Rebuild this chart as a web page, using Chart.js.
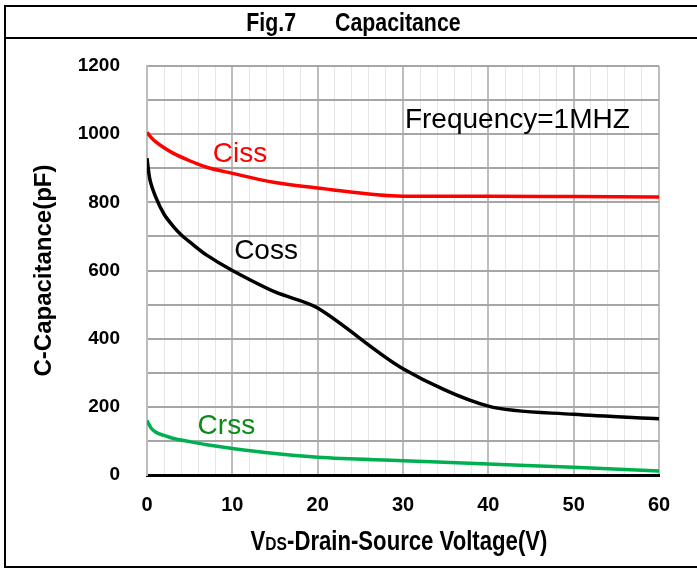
<!DOCTYPE html>
<html><head><meta charset="utf-8">
<script src="https://cdn.jsdelivr.net/npm/chart.js@4.4.0/dist/chart.umd.min.js"></script>
<style>html,body{margin:0;padding:0;background:#fff;overflow:hidden}</style>
</head><body>
<canvas id="c" width="697" height="569"></canvas>
<script>
// ---- data ----
const cissV = [0, 0.5, 1, 2, 3, 5, 7, 10, 15, 20, 30, 40, 50, 60];
const cissC = [1005, 990, 978, 960, 945, 922, 903, 885, 858, 842, 818, 818, 817, 816];
const cossV = [0, 0.35, 1, 2, 3, 4, 5, 7, 10, 15, 20, 30, 40, 50, 60];
const cossC = [929, 866, 817, 765, 732, 705, 684, 645, 600, 537, 490, 312, 202, 178, 165];
const crssV = [0, 0.5, 1, 2, 3, 5, 7, 10, 15, 20, 30, 40, 50, 60];
const crssC = [160, 137, 126, 116, 108, 98, 89, 78, 63, 52, 42, 32, 23, 12];
const xMin = 0, xMax = 60, xStep = 2, xLabelEvery = 10;
const yMin = 0, yMax = 1200, yStep = 100, yLabelEvery = 200;
const chartTitleLeft = 'Fig.7';
const chartTitleRight = 'Capacitance';
const xTitleMain = 'V', xTitleSub = 'DS', xTitleRest = '-Drain-Source Voltage(V)';
const yTitle = 'C-Capacitance(pF)';
const seriesNames = ['Ciss', 'Coss', 'Crss'];
const noteText = 'Frequency=1MHZ';

const SANS = '"Liberation Sans", Arial, sans-serif';
const CONDENSE = 0.82;

const toPts = (xs, ys) => xs.map((x, i) => ({x: x, y: ys[i]}));

// annotation anchors (data units) and styles
const notes = [
  {text: seriesNames[0], v: 10.9, c: 918, color: '#ff0000'},
  {text: seriesNames[1], v: 13.95, c: 634, color: '#000000'},
  {text: seriesNames[2], v: 9.3, c: 119, color: '#0b8a17'},
  {text: noteText, v: 43.4, c: 1019, color: '#000000'}
];

function condensedText(ctx, text, x, y, align) {
  ctx.save();
  ctx.translate(x, y);
  ctx.scale(CONDENSE, 1);
  ctx.textAlign = align;
  ctx.fillText(text, 0, 0);
  ctx.restore();
}

const decor = {
  id: 'decor',
  afterDatasetsDraw(chart) {
    const ctx = chart.ctx, xs = chart.scales.x, ys = chart.scales.y;
    ctx.save();
    ctx.font = '28px ' + SANS;
    ctx.textAlign = 'center';
    ctx.textBaseline = 'alphabetic';
    notes.forEach(n => {
      ctx.fillStyle = n.color;
      ctx.fillText(n.text, xs.getPixelForValue(n.v), ys.getPixelForValue(n.c));
    });
    ctx.restore();
  },
  afterDraw(chart) {
    const ctx = chart.ctx, xs = chart.scales.x, W = chart.width, H = chart.height;
    ctx.save();
    // frame
    ctx.strokeStyle = '#000';
    ctx.lineWidth = 2;
    ctx.beginPath();
    ctx.moveTo(5, 6); ctx.lineTo(W, 6);
    ctx.moveTo(5, 38); ctx.lineTo(W, 38);
    ctx.moveTo(5, H - 2); ctx.lineTo(W, H - 2);
    ctx.moveTo(5, 5); ctx.lineTo(5, H - 1);
    ctx.stroke();
    // chart title
    ctx.fillStyle = '#000';
    ctx.textBaseline = 'alphabetic';
    ctx.font = 'bold 26px ' + SANS;
    condensedText(ctx, chartTitleLeft, 296, 31, 'right');
    condensedText(ctx, chartTitleRight, 335, 31, 'left');
    // x-axis title with small "DS"
    const big = 'bold 27px ' + SANS, small = 'bold 19px ' + SANS;
    ctx.font = big; const w1 = ctx.measureText(xTitleMain).width * CONDENSE;
    ctx.font = small; const w2 = ctx.measureText(xTitleSub).width * CONDENSE;
    ctx.font = big; const w3 = ctx.measureText(xTitleRest).width * CONDENSE;
    const cx = (xs.left + xs.right) / 2 - 4;
    let x0 = cx - (w1 + w2 + w3) / 2;
    const by = 550;
    ctx.font = big; condensedText(ctx, xTitleMain, x0, by, 'left'); x0 += w1;
    ctx.font = small; condensedText(ctx, xTitleSub, x0, by, 'left'); x0 += w2;
    ctx.font = big; condensedText(ctx, xTitleRest, x0, by, 'left');
    ctx.restore();
  }
};

new Chart(document.getElementById('c'), {
  type: 'line',
  data: {
    datasets: [
      {label: seriesNames[0], data: toPts(cissV, cissC), borderColor: '#ff0000', borderWidth: 3.5, cubicInterpolationMode: 'monotone'},
      {label: seriesNames[1], data: toPts(cossV, cossC), borderColor: '#000000', borderWidth: 3.5, tension: 0.3},
      {label: seriesNames[2], data: toPts(crssV, crssC), borderColor: '#00b050', borderWidth: 3.5, cubicInterpolationMode: 'monotone'}
    ]
  },
  options: {
    responsive: false,
    animation: false,
    devicePixelRatio: 1,
    layout: {padding: {left: 0, right: 38, top: 66, bottom: 0}},
    elements: {point: {radius: 0, hoverRadius: 0}},
    plugins: {legend: {display: false}, tooltip: {enabled: false}},
    scales: {
      x: {
        type: 'linear', min: xMin, max: xMax,
        ticks: {
          stepSize: xStep, autoSkip: false, maxRotation: 0, padding: 18, color: '#000',
          font: {family: SANS, size: 20, weight: 'bold'},
          callback: v => (v % xLabelEvery === 0 ? String(v) : '')
        },
        grid: {
          drawTicks: false,
          color: c => (c.tick && c.tick.value % xLabelEvery === 0 ? '#bdbdbd' : '#e6e6e6'),
          lineWidth: c => (c.tick && c.tick.value % xLabelEvery === 0 ? 2 : 1)
        },
        border: {color: '#000', width: 3},
        afterFit: s => { s.height = 94; }
      },
      y: {
        min: yMin, max: yMax,
        ticks: {
          stepSize: yStep, padding: 27, color: '#000',
          font: {family: SANS, size: 19, weight: 'bold'},
          callback: v => (v % yLabelEvery === 0 ? String(v) : '')
        },
        grid: {
          drawTicks: false,
          color: c => (c.tick && c.tick.value === yMin ? 'rgba(0,0,0,0)' : '#a6a6a6'),
          lineWidth: 2
        },
        border: {color: '#bdbdbd', width: 2},
        title: {display: true, text: yTitle, color: '#000', font: {family: SANS, size: 24, weight: 'bold'}, padding: {top: 30, bottom: 0}},
        afterFit: s => { s.width = 147; }
      }
    }
  },
  plugins: [decor]
});
</script>
</body></html>
